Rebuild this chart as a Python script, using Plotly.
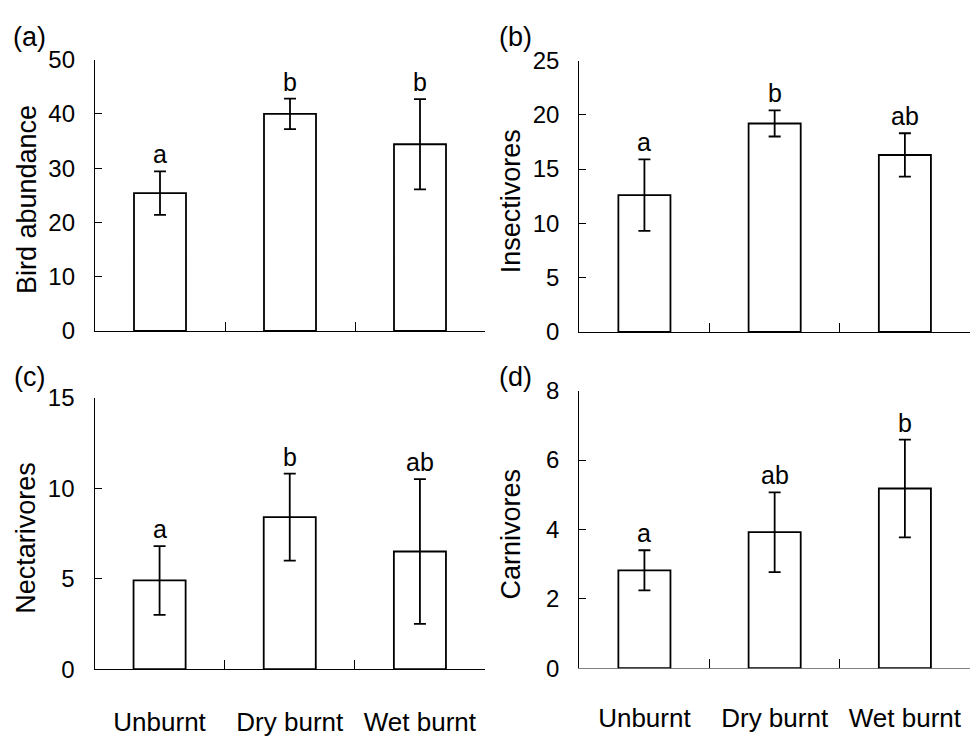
import plotly.graph_objects as go

# Treatment categories
categories = ["Unburnt", "Dry burnt", "Wet burnt"]

# Means and standard errors per guild
abundance_mean = [25.4, 40.0, 34.4]
abundance_se = [4.0, 2.8, 8.3]
abundance_letters = ["a", "b", "b"]

insectivore_mean = [12.6, 19.2, 16.3]
insectivore_se = [3.3, 1.2, 2.0]
insectivore_letters = ["a", "b", "ab"]

nectarivore_mean = [4.9, 8.4, 6.5]
nectarivore_se = [1.9, 2.4, 4.0]
nectarivore_letters = ["a", "b", "ab"]

carnivore_mean = [2.82, 3.92, 5.18]
carnivore_se = [0.58, 1.15, 1.41]
carnivore_letters = ["a", "ab", "b"]

panel_tags = ["(a)", "(b)", "(c)", "(d)"]
y_titles = ["Bird abundance", "Insectivores", "Nectarivores", "Carnivores"]
y_ranges = [[0, 50], [0, 25], [0, 15], [0, 8]]
y_dticks = [10, 5, 5, 2]

FONT = "Arial, 'Liberation Sans', sans-serif"
W, H = 971, 738

panels = [
    (abundance_mean, abundance_se, abundance_letters),
    (insectivore_mean, insectivore_se, insectivore_letters),
    (nectarivore_mean, nectarivore_se, nectarivore_letters),
    (carnivore_mean, carnivore_se, carnivore_letters),
]

# Plot areas in pixels: left, right, top, bottom
boxes = [
    (95, 485, 47.3, 329),
    (579.3, 970, 48.3, 330),
    (94.5, 485, 398.3, 680),
    (579.3, 970, 391, 679),
]

fig = go.Figure()
layout = dict(
    width=W, height=H,
    margin=dict(l=0, r=0, t=0, b=0),
    paper_bgcolor="white", plot_bgcolor="white",
    showlegend=False,
    font=dict(family=FONT, color="black"),
    bargap=0.6,
)

annotations = []
for i, ((mean, se, letters), (l, r, t, b)) in enumerate(zip(panels, boxes)):
    n = i + 1
    xa = "x" if n == 1 else f"x{n}"
    ya = "y" if n == 1 else f"y{n}"
    fig.add_trace(go.Bar(
        x=categories, y=mean,
        xaxis=xa, yaxis=ya,
        width=0.4,
        marker=dict(color="white", line=dict(color="black", width=1.8)),
        error_y=dict(type="data", array=se, visible=True,
                     color="black", thickness=1.8, width=6),
    ))
    bottom_row = n >= 3
    xkey = "xaxis" if n == 1 else f"xaxis{n}"
    ykey = "yaxis" if n == 1 else f"yaxis{n}"
    layout[xkey] = dict(
        domain=[l / W, r / W],
        anchor=ya,
        type="category",
        range=[-0.5, 2.5],
        showline=True,
        linecolor="#808080" if n == 4 else "black",
        linewidth=1.3,
        ticks="inside", tickson="boundaries", ticklen=9,
        tickcolor="black", tickwidth=1.3,
        showgrid=False, zeroline=False,
        showticklabels=bottom_row,
        tickfont=dict(size=26, family=FONT, color="black"),
        ticklabelstandoff=30 if n == 3 else 26,
        layer="below traces",
    )
    layout[ykey] = dict(
        domain=[1 - b / H, 1 - t / H],
        anchor=xa,
        range=y_ranges[i],
        dtick=y_dticks[i], tick0=0,
        showline=True, linecolor="black", linewidth=1.3,
        ticks="inside", ticklen=7, tickcolor="black", tickwidth=1.3,
        showgrid=False, zeroline=False,
        tickfont=dict(size=24, family=FONT, color="black"),
        ticklabelstandoff=14,
    )
    # significance letters above each error bar
    for c, m, s, lt in zip(categories, mean, se, letters):
        annotations.append(dict(
            x=c, y=m + s, xref=xa, yref=ya,
            text=lt, showarrow=False,
            xanchor="center", yanchor="bottom", yshift=1,
            font=dict(size=25, family=FONT, color="black"),
        ))
    # y-axis title
    annotations.append(dict(
        x=(l - 68) / W, y=1 - ((t + b) / 2 + 5) / H,
        xref="paper", yref="paper",
        text=y_titles[i], textangle=-90, showarrow=False,
        xanchor="center", yanchor="middle",
        font=dict(size=27, family=FONT, color="black"),
    ))
    # panel tag
    tag_x = 29 if n in (1, 3) else 515
    tag_y = 24 if n in (1, 2) else 377
    annotations.append(dict(
        x=tag_x / W, y=1 - tag_y / H,
        xref="paper", yref="paper",
        text=panel_tags[i], showarrow=False,
        xanchor="center", yanchor="middle",
        font=dict(size=27, family=FONT, color="black"),
    ))

layout["annotations"] = annotations
fig.update_layout(**layout)
fig.write_html("out.html")
